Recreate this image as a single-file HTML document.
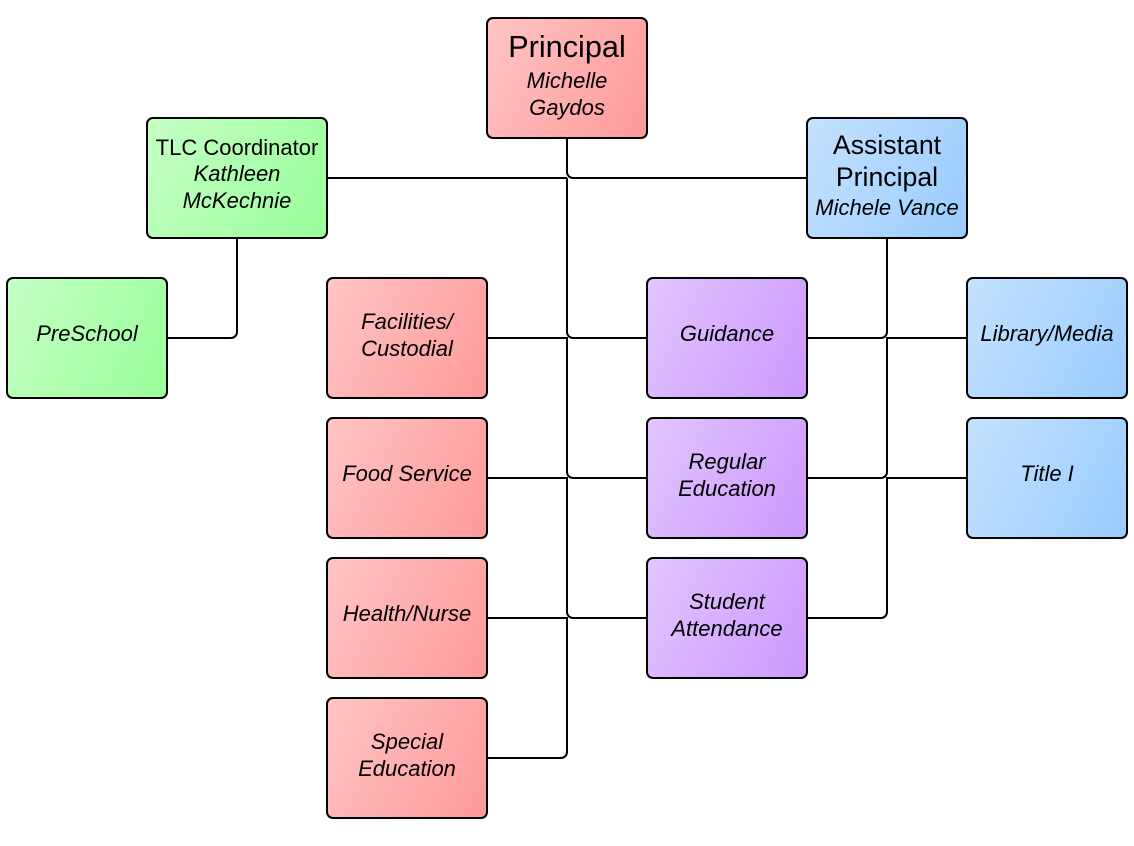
<!DOCTYPE html>
<html><head><meta charset="utf-8"><style>
html,body{margin:0;padding:0;background:#fff}
svg{display:block}
text{font-family:"Liberation Sans",sans-serif;fill:#000;text-anchor:middle}
.i{font-style:italic;font-size:22px}
.b{stroke:#000;stroke-width:2}
.l{fill:none;stroke:#000;stroke-width:2}
</style></head><body>
<svg width="1134" height="846" viewBox="0 0 1134 846" xmlns="http://www.w3.org/2000/svg">
<defs>
<linearGradient id="r" x1="0" y1="0" x2="1.2" y2="0.45"><stop offset="0" stop-color="#ffc5c5"/><stop offset="1" stop-color="#ff9999"/></linearGradient>
<linearGradient id="g" x1="0" y1="0" x2="1.2" y2="0.45"><stop offset="0" stop-color="#c5ffc5"/><stop offset="1" stop-color="#99ff99"/></linearGradient>
<linearGradient id="u" x1="0" y1="0" x2="1.2" y2="0.45"><stop offset="0" stop-color="#c5e2ff"/><stop offset="1" stop-color="#99ccff"/></linearGradient>
<linearGradient id="p" x1="0" y1="0" x2="1.2" y2="0.45"><stop offset="0" stop-color="#e2c5ff"/><stop offset="1" stop-color="#cc99ff"/></linearGradient>
</defs>
<g class="l">
<path class="l" d="M567 138V172a6 6 0 0 0 6 6H807"/>
<path class="l" d="M327 178H567"/>
<path class="l" d="M567 178V332a6 6 0 0 0 6 6H647"/>
<path class="l" d="M567 337V472a6 6 0 0 0 6 6H647"/>
<path class="l" d="M567 477V612a6 6 0 0 0 6 6H647"/>
<path class="l" d="M567 617V752a6 6 0 0 1-6 6H487"/>
<path class="l" d="M487 338H568M487 478H568M487 618H568"/>
<path class="l" d="M887 238V332a6 6 0 0 1-6 6H807"/>
<path class="l" d="M887 337V472a6 6 0 0 1-6 6H807"/>
<path class="l" d="M887 477V612a6 6 0 0 1-6 6H807"/>
<path class="l" d="M886 338H967M886 478H967"/>
<path class="l" d="M237 238V332a6 6 0 0 1-6 6H167"/>
</g>
<rect class="b" x="487" y="18" width="160" height="120" rx="6" fill="url(#r)"/>
<rect class="b" x="147" y="118" width="180" height="120" rx="6" fill="url(#g)"/>
<rect class="b" x="807" y="118" width="160" height="120" rx="6" fill="url(#u)"/>
<rect class="b" x="7" y="278" width="160" height="120" rx="6" fill="url(#g)"/>
<rect class="b" x="327" y="278" width="160" height="120" rx="6" fill="url(#r)"/>
<rect class="b" x="327" y="418" width="160" height="120" rx="6" fill="url(#r)"/>
<rect class="b" x="327" y="558" width="160" height="120" rx="6" fill="url(#r)"/>
<rect class="b" x="327" y="698" width="160" height="120" rx="6" fill="url(#r)"/>
<rect class="b" x="647" y="278" width="160" height="120" rx="6" fill="url(#p)"/>
<rect class="b" x="647" y="418" width="160" height="120" rx="6" fill="url(#p)"/>
<rect class="b" x="647" y="558" width="160" height="120" rx="6" fill="url(#p)"/>
<rect class="b" x="967" y="278" width="160" height="120" rx="6" fill="url(#u)"/>
<rect class="b" x="967" y="418" width="160" height="120" rx="6" fill="url(#u)"/>
<text x="567" y="57" font-size="30.67">Principal</text>
<text class="i" x="567" y="88">Michelle</text>
<text class="i" x="567" y="115">Gaydos</text>
<text x="237" y="155" font-size="22">TLC Coordinator</text>
<text class="i" x="237" y="181">Kathleen</text>
<text class="i" x="237" y="208">McKechnie</text>
<text x="887" y="154" font-size="26.67">Assistant</text>
<text x="887" y="186" font-size="26.67">Principal</text>
<text class="i" x="887" y="215">Michele Vance</text>
<text class="i" x="87" y="341">PreSchool</text>
<text class="i" x="407" y="329">Facilities/</text>
<text class="i" x="407" y="356">Custodial</text>
<text class="i" x="407" y="481">Food Service</text>
<text class="i" x="407" y="621">Health/Nurse</text>
<text class="i" x="407" y="749">Special</text>
<text class="i" x="407" y="776">Education</text>
<text class="i" x="727" y="341">Guidance</text>
<text class="i" x="727" y="469">Regular</text>
<text class="i" x="727" y="496">Education</text>
<text class="i" x="727" y="609">Student</text>
<text class="i" x="727" y="636">Attendance</text>
<text class="i" x="1047" y="341">Library/Media</text>
<text class="i" x="1047" y="481">Title I</text>
</svg>
</body></html>
